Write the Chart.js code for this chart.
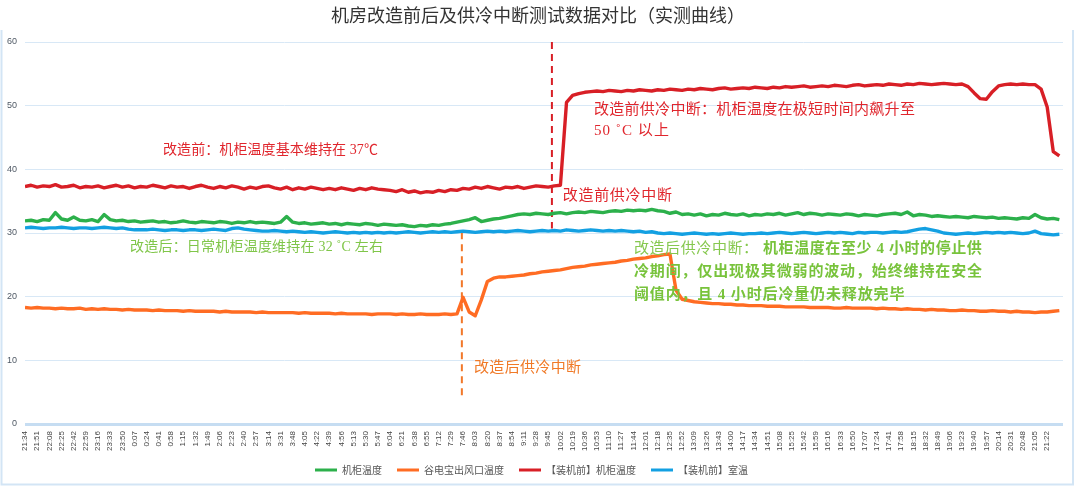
<!DOCTYPE html>
<html><head><meta charset="utf-8">
<script src="https://cdn.jsdelivr.net/npm/chart.js@4.4.0/dist/chart.umd.min.js"></script>
<style>html,body{margin:0;padding:0;background:#fff;}#wrap{width:1080px;height:489px;}</style>
</head><body><div id="wrap"><canvas id="c" width="1080" height="489"></canvas></div>
<script>
// ---- data ----
const chartTitle = '机房改造前后及供冷中断测试数据对比（实测曲线）';
const timeLabels = ['21:34','21:51','22:08','22:25','22:42','22:59','23:16','23:33','23:50','0:07','0:24','0:41','0:58','1:15','1:32','1:49','2:06','2:23','2:40','2:57','3:14','3:31','3:48','4:05','4:22','4:39','4:56','5:13','5:30','5:47','6:04','6:21','6:38','6:55','7:12','7:29','7:46','8:03','8:20','8:37','8:54','9:11','9:28','9:45','10:02','10:19','10:36','10:53','11:10','11:27','11:44','12:01','12:18','12:35','12:52','13:09','13:26','13:43','14:00','14:17','14:34','14:51','15:08','15:25','15:42','15:59','16:16','16:33','16:50','17:07','17:24','17:41','17:58','18:15','18:32','18:49','19:06','19:23','19:40','19:57','20:14','20:31','20:48','21:05','21:22'];
const yTicks = [0,10,20,30,40,50,60];
const seriesNames = ['机柜温度','谷电宝出风口温度','【装机前】机柜温度','【装机前】室温'];
// samples every half label interval (index 0, 0.5, 1, ... 85)
const cabinetAfter = [
31.9,32.0,31.8,32.1,32.0,33.2,32.2,32.0,32.5,32.0,31.9,32.1,31.8,32.9,32.1,31.9,32.0,31.8,31.9,31.7,
31.8,31.9,31.7,31.8,31.6,31.7,31.9,31.7,31.6,31.8,31.7,31.6,31.8,31.7,31.5,31.7,31.6,31.8,31.6,31.7,
31.6,31.5,31.7,32.6,31.7,31.5,31.6,31.4,31.5,31.6,31.4,31.5,31.3,31.5,31.4,31.3,31.5,31.4,31.2,31.4,
31.3,31.2,31.3,31.1,31.0,31.2,31.1,31.3,31.2,31.4,31.5,31.7,31.9,32.1,32.4,31.8,32.0,32.2,32.3,32.5,
32.7,32.9,33.0,32.9,33.1,33.0,32.9,33.1,33.2,33.0,33.2,33.3,33.2,33.4,33.3,33.2,33.4,33.5,33.4,33.6,
33.5,33.6,33.5,33.7,33.5,33.4,33.1,33.3,32.9,33.0,32.8,33.0,32.7,32.9,32.8,33.1,32.9,32.8,33.0,32.7,
32.9,32.8,33.0,32.9,33.1,32.8,33.0,33.2,32.9,33.1,33.0,32.8,33.0,32.9,32.8,33.0,32.9,32.7,32.9,32.8,
32.7,32.9,33.0,33.1,32.9,33.3,32.7,32.9,32.8,32.6,32.7,32.6,32.5,32.6,32.5,32.4,32.6,32.5,32.4,32.5,
32.3,32.4,32.3,32.2,32.4,32.3,32.9,32.4,32.2,32.3,32.1];
const outletAfter = [
18.3,18.2,18.3,18.2,18.2,18.1,18.2,18.1,18.1,18.2,18.0,18.1,18.0,18.1,18.0,18.0,17.9,18.0,17.9,17.9,
17.9,17.8,17.9,17.8,17.8,17.8,17.7,17.8,17.7,17.7,17.7,17.7,17.6,17.7,17.6,17.6,17.6,17.6,17.5,17.6,
17.5,17.5,17.5,17.5,17.5,17.4,17.5,17.4,17.4,17.4,17.4,17.3,17.4,17.3,17.3,17.3,17.3,17.2,17.3,17.3,
17.3,17.2,17.3,17.2,17.2,17.3,17.2,17.2,17.2,17.3,17.2,17.3,19.9,17.6,17.0,19.5,22.4,22.9,23.1,23.1,
23.2,23.3,23.4,23.6,23.7,23.9,24.0,24.1,24.2,24.4,24.6,24.7,24.8,25.0,25.1,25.2,25.3,25.4,25.6,25.7,
25.9,26.0,26.1,26.3,26.4,26.6,26.7,21.0,19.6,19.4,19.2,19.1,19.0,18.9,18.9,18.8,18.8,18.7,18.7,18.6,
18.6,18.6,18.5,18.5,18.5,18.4,18.4,18.4,18.4,18.3,18.3,18.3,18.3,18.2,18.2,18.3,18.2,18.2,18.2,18.2,
18.1,18.2,18.1,18.1,18.0,18.1,18.0,18.0,17.9,18.0,17.9,17.9,17.8,17.8,17.9,17.8,17.8,17.7,17.7,17.8,
17.7,17.7,17.6,17.7,17.6,17.6,17.5,17.6,17.6,17.7,17.8];
const cabinetBefore = [
37.3,37.5,37.2,37.4,37.3,37.6,37.2,37.3,37.5,37.1,37.3,37.2,37.4,37.1,37.3,37.5,37.2,37.4,37.1,37.3,
37.2,37.5,37.3,37.1,37.4,37.2,37.3,37.0,37.3,37.5,37.2,37.0,37.3,37.1,37.4,37.2,36.9,37.2,37.0,37.3,
37.4,37.1,36.9,37.2,36.8,37.1,36.9,37.2,37.0,36.8,37.0,36.8,37.1,36.9,36.7,37.0,36.8,37.1,36.9,36.8,
36.7,36.5,36.8,36.4,36.6,36.3,36.5,36.4,36.7,36.5,36.8,36.7,37.0,36.9,37.2,37.0,37.3,37.1,36.9,37.2,
37.1,37.3,37.0,37.2,37.4,37.3,37.2,37.4,37.5,50.5,51.6,51.9,52.1,52.2,52.3,52.2,52.4,52.3,52.2,52.4,
52.3,52.5,52.4,52.3,52.5,52.4,52.6,52.5,52.4,52.6,52.5,52.7,52.6,52.5,52.7,52.8,52.6,52.7,52.8,52.7,
52.9,52.8,52.7,52.9,52.8,53.0,52.9,53.0,53.1,52.9,53.0,53.1,53.0,53.2,53.1,53.0,53.2,53.3,53.1,53.2,
53.3,53.2,53.4,53.3,53.2,53.4,53.3,53.5,53.4,53.3,53.4,53.5,53.4,53.3,53.4,53.0,52.0,51.1,51.0,52.2,
53.1,53.3,53.4,53.3,53.4,53.3,53.3,52.6,49.8,42.8,42.1];
const roomBefore = [
30.8,30.9,30.8,30.7,30.8,30.8,30.9,30.8,30.7,30.8,30.8,30.7,30.8,30.9,30.8,30.7,30.8,30.6,30.5,30.5,
30.5,30.6,30.5,30.4,30.5,30.5,30.4,30.5,30.5,30.4,30.5,30.6,30.5,30.4,30.7,30.8,30.6,30.5,30.4,30.3,
30.3,30.4,30.3,30.2,30.3,30.2,30.1,30.2,30.1,30.0,30.1,30.2,30.1,30.0,30.1,30.0,30.1,30.0,30.1,30.0,
30.1,30.0,30.1,30.2,30.1,30.0,30.1,30.2,30.1,30.2,30.1,30.2,30.3,30.2,30.1,30.2,30.3,30.2,30.3,30.2,
30.3,30.4,30.3,30.2,30.3,30.4,30.3,30.4,30.3,30.5,30.4,30.3,30.4,30.5,30.4,30.3,30.4,30.3,30.4,30.3,
30.2,30.3,30.1,30.2,30.0,29.9,30.0,29.9,29.8,29.9,30.0,29.9,29.8,29.9,29.8,29.9,30.0,29.9,29.8,29.9,
29.9,30.0,29.9,30.0,30.1,30.0,29.9,30.0,30.1,30.0,29.9,30.0,30.1,30.0,30.1,30.0,29.9,30.1,30.0,30.1,
30.1,30.0,30.1,30.2,30.1,30.2,30.4,30.6,30.7,30.5,30.3,30.0,29.9,29.8,29.9,30.0,29.9,30.0,30.1,30.0,
30.1,30.0,30.1,30.0,29.9,30.0,30.3,29.9,29.8,29.7,29.8];
// interruption markers: [label index, from value, to value]
const markerBefore = [43.3, 60, 30.7];
const markerAfter = [35.9, 30.1, 3.9];

// ---- styling ----
const SAMPLE_STEP = 0.5;
const colors = ['#2cb04b','#ff6c23','#d81f26','#13a0e2'];
const CJK = '"Liberation Serif","Noto Sans CJK SC",serif';
const SANS = '"Noto Sans CJK SC","Liberation Sans",sans-serif';

function toPoints(arr){ return arr.map((v,i)=>({x:i*SAMPLE_STEP, y:v})); }
const series = [cabinetAfter, outletAfter, cabinetBefore, roomBefore];
const datasets = series.map((arr,k)=>({
  label: seriesNames[k], data: toPoints(arr), borderColor: colors[k], backgroundColor: colors[k],
  borderWidth: 3.4, pointRadius: 0, tension: 0, borderJoinStyle: 'round'
}));
datasets.push({label:'m1', data:[{x:markerBefore[0],y:markerBefore[1]},{x:markerBefore[0],y:markerBefore[2]}],
  borderColor:'#d81f26', borderWidth:2, borderDash:[7,5], pointRadius:0});
datasets.push({label:'m2', data:[{x:markerAfter[0],y:markerAfter[1]},{x:markerAfter[0],y:markerAfter[2]}],
  borderColor:'#f2782a', borderWidth:2, borderDash:[7,5], pointRadius:0});

// annotation texts in data coordinates (label index, value)
const notes = [
  {x:11.34, y:43.0, w:215, parts:[{t:'改造前：机柜温度基本维持在 37℃', c:'#e0262d', f:'14px '+CJK}]},
  {x:46.75, y:49.3, w:321, parts:[{t:'改造前供冷中断：机柜温度在极短时间内飙升至', c:'#e0262d', f:'15px '+CJK}]},
  {x:46.75, y:46.0, w:75, parts:[{t:'50 ˚C 以上', c:'#e0262d', f:'15px '+CJK}]},
  {x:44.2, y:35.75, w:109, parts:[{t:'改造前供冷中断', c:'#e0262d', f:'15px '+CJK}]},
  {x:8.63, y:27.7, w:253, parts:[{t:'改造后：日常机柜温度维持在 32 ˚C 左右', c:'#80c64a', f:'14px '+CJK}]},
  {x:36.9, y:8.8, w:107, parts:[{t:'改造后供冷中断', c:'#f07a28', f:'15px '+CJK}]},
  {x:50.04, y:27.4, w:348, parts:[{t:'改造后供冷中断： ', c:'#86c84f', f:'15px '+CJK},{t:'机柜温度在至少 4 小时的停止供', c:'#78c33c', f:'bold 15px '+CJK}]},
  {x:50.04, y:23.8, w:348, parts:[{t:'冷期间，仅出现极其微弱的波动，始终维持在安全', c:'#78c33c', f:'bold 15px '+CJK}]},
  {x:50.04, y:20.2, w:null, parts:[{t:'阈值内，且 4 小时后冷量仍未释放完毕', c:'#78c33c', f:'bold 15px '+CJK}]}
];

const notePlugin = {
  id:'notes',
  afterDatasetsDraw(chart){
    const {ctx, scales:{x,y}} = chart;
    ctx.save();
    ctx.textBaseline = 'middle';
    ctx.textAlign = 'left';
    let lastLs = 0;
    notes.forEach(n=>{
      let px = x.getPixelForValue(n.x), py = y.getPixelForValue(n.y);
      let nat = 0, cnt = 0;
      ctx.letterSpacing = '0px';
      n.parts.forEach(p=>{ctx.font=p.f; nat += ctx.measureText(p.t).width; cnt += [...p.t].length;});
      let ls = n.w ? (n.w - nat)/(cnt-1) : lastLs;
      if (n.w) lastLs = ls;
      n.parts.forEach(p=>{
        ctx.font = p.f; ctx.fillStyle = p.c;
        ctx.letterSpacing = ls.toFixed(2)+'px';
        ctx.fillText(p.t, px, py);
        px += ctx.measureText(p.t).width;
      });
      ctx.letterSpacing = '0px';
    });
    ctx.restore();
  }
};
const framePlugin = {
  id:'frame',
  afterDraw(chart){
    const ctx = chart.ctx;
    ctx.save();
    ctx.strokeStyle = '#d3e5f5'; ctx.lineWidth = 2;
    ctx.beginPath();
    ctx.moveTo(1.5, 30); ctx.lineTo(1.5, 484.5); ctx.lineTo(1073, 484.5); ctx.lineTo(1073, 30);
    ctx.stroke();
    // chart title
    ctx.font = '18px ' + CJK; ctx.fillStyle = '#333';
    ctx.textAlign = 'center'; ctx.textBaseline = 'middle';
    ctx.fillText(chartTitle, 538, 17);
    ctx.restore();
  }
};

new Chart(document.getElementById('c').getContext('2d'), {
  type:'line',
  data:{datasets},
  options:{
    responsive:false, animation:false, events:[],
    layout:{padding:{left:0,right:17,top:42,bottom:4}},
    plugins:{
      title:{display:false},
      legend:{position:'bottom', labels:{boxWidth:22, boxHeight:3, padding:10, color:'#555',
        font:{family:SANS, size:10},
        generateLabels:(chart)=>Chart.defaults.plugins.legend.labels.generateLabels(chart)
          .filter(it=>it.datasetIndex<4).map((it,i)=>{ it.text = it.text + (i<3?'\u2002':''); it.lineWidth = 0; return it; })}},
      tooltip:{enabled:false}
    },
    scales:{
      x:{type:'linear', min:0, max:85.3,
        afterBuildTicks:(s)=>{ s.ticks = timeLabels.map((_,i)=>({value:i})); },
        ticks:{autoSkip:false, minRotation:90, maxRotation:90, padding:7, color:'#444',
          font:{family:'"Liberation Sans",Arial,sans-serif', size:8},
          callback:(v,i)=>timeLabels[i]},
        grid:{display:false, drawTicks:false}, border:{display:false},
        afterFit:(s)=>{ s.height = 31; }},
      y:{min:0, max:60,
        afterBuildTicks:(s)=>{ s.ticks = yTicks.map(v=>({value:v})); },
        ticks:{padding:8, color:'#4f5965', font:{family:'"Liberation Sans",Arial,sans-serif', size:9}},
        grid:{color:(c)=>c.tick && c.tick.value===0?'#c6ddf2':'#d8e8f6', lineWidth:(c)=>c.tick && c.tick.value===0?3:1, drawTicks:false},
        border:{display:false},
        afterFit:(s)=>{ s.width = 25; }}
    }
  },
  plugins:[notePlugin, framePlugin]
});
</script></body></html>
